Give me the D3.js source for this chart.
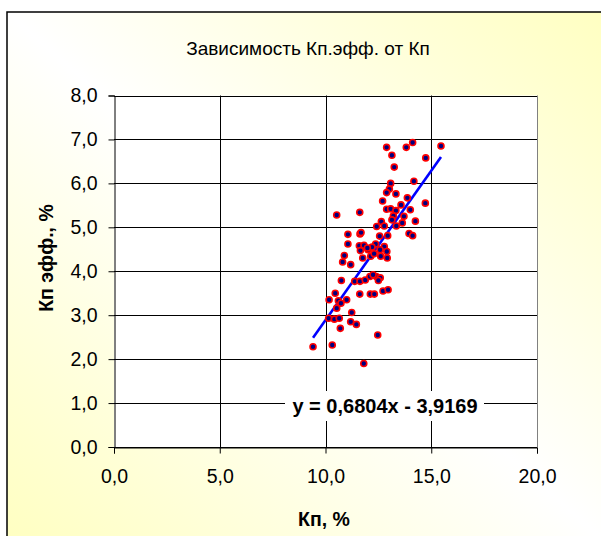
<!DOCTYPE html>
<html><head><meta charset="utf-8">
<script src="https://cdn.jsdelivr.net/npm/d3@7"></script>
<style>body{margin:0;background:#fff}svg{display:block}text{font-family:"Liberation Sans",Arial,sans-serif}</style>
</head><body>
<script>
const title = "Зависимость Кп.эфф. от Кп";
const xTitle = "Кп, %";
const yTitle = "Кп эфф., %";
const xTicks = [0, 5, 10, 15, 20];
const yTicks = [0, 1, 2, 3, 4, 5, 6, 7, 8];
const slope = 0.6804, intercept = -3.9169;
const equation = "y = 0,6804x - 3,9169";
const kp = [12.89,14.12,13.82,15.46,13.14,14.74,13.25,14.18,13.08,13.02,12.89,13.33,13.87,12.70,14.72,13.57,12.89,13.08,13.33,14.01,
  10.53,11.62,13.21,13.71,14.25,12.64,13.14,12.42,12.78,13.35,13.63,11.06,11.63,11.68,12.56,12.94,13.95,14.12,
  11.06,11.60,11.82,12.37,12.78,11.65,12.01,12.58,10.89,11.76,12.14,12.61,12.92,10.81,11.19,10.75,11.38,11.63,11.88,12.10,12.40,12.59,12.50,
  10.46,10.17,10.61,11.00,11.62,12.12,12.31,12.72,12.96,10.73,10.53,11.24,10.15,10.42,10.65,11.19,11.46,10.70,12.47,9.41,10.32,11.81,
  12.20,12.90,12.30,11.98,12.25];
const kpEff = [6.82,6.93,6.82,6.85,6.64,6.58,6.37,6.05,6.00,5.87,5.79,5.76,5.67,5.60,5.55,5.51,5.41,5.42,5.38,5.40,
  5.28,5.34,5.26,5.25,5.14,5.13,5.17,5.02,5.03,5.03,5.10,4.84,4.85,4.88,4.80,4.81,4.86,4.81,
  4.62,4.58,4.59,4.62,4.56,4.47,4.49,4.49,4.36,4.30,4.34,4.34,4.30,4.21,4.15,3.79,3.77,3.77,3.80,3.88,3.88,3.85,3.79,
  3.50,3.35,3.33,3.35,3.48,3.48,3.48,3.55,3.58,3.27,3.16,3.06,2.93,2.91,2.93,2.85,2.79,2.70,2.55,2.28,2.32,1.90,
  4.55,4.45,4.40,4.53,3.92];

const W = 601, H = 536;
const FONT = 19.5;
const svg = d3.select("body").append("svg").attr("width", W).attr("height", H);
const defs = svg.append("defs");
const g = defs.append("linearGradient").attr("id","bg").attr("x1","0").attr("y1","1").attr("x2","1").attr("y2","0");
g.append("stop").attr("offset","0").attr("stop-color","#ffffc0");
g.append("stop").attr("offset","0.5").attr("stop-color","#ffffff");
g.append("stop").attr("offset","1").attr("stop-color","#ffffc0");

svg.append("rect").attr("x",7).attr("y",12).attr("width",610).attr("height",540)
  .attr("fill","url(#bg)").attr("stroke","#000").attr("stroke-width",1.5);

const loc = d3.formatLocale({decimal: ",", thousands: " ", grouping: [3], currency: ["", ""]});
const fmt = loc.format(".1f");

const x = d3.scaleLinear().domain([0, 20]).range([114, 537]);
const y = d3.scaleLinear().domain([0, 8]).range([447, 95.5]);

svg.append("rect").attr("x", x(0)).attr("y", y(8)).attr("width", x(20)-x(0)).attr("height", y(0)-y(8)).attr("fill","#fff");

// gridlines
svg.append("g").selectAll("line").data(yTicks).join("line")
  .attr("x1", x(0)).attr("x2", x(20)).attr("y1", d=>Math.round(y(d))+0.5).attr("y2", d=>Math.round(y(d))+0.5)
  .attr("stroke","#000").attr("stroke-width",1);
svg.append("g").selectAll("line").data(xTicks.filter(d=>d>0&&d<20)).join("line")
  .attr("y1", y(0)).attr("y2", y(8)).attr("x1", d=>Math.round(x(d))+0.5).attr("x2", d=>Math.round(x(d))+0.5)
  .attr("stroke","#000").attr("stroke-width",1);
svg.append("line").attr("x1", Math.round(x(20))+0.5).attr("x2", Math.round(x(20))+0.5).attr("y1", y(0)).attr("y2", y(8))
  .attr("stroke","#808080").attr("stroke-width",1);

// axes
const xAxis = svg.append("g").attr("transform",`translate(0,${Math.round(y(0))+0.5})`)
  .call(d3.axisBottom(x).tickValues(xTicks).tickFormat(fmt).tickSize(6).tickPadding(16));
const yAxis = svg.append("g").attr("transform",`translate(${Math.round(x(0))+0.5},0)`)
  .call(d3.axisLeft(y).tickValues(yTicks).tickFormat(fmt).tickSize(6).tickPadding(11));
[xAxis, yAxis].forEach(a => {
  a.select(".domain").attr("stroke","#000");
  a.selectAll(".tick line").attr("stroke","#000");
  a.selectAll("text").attr("font-size", FONT).attr("fill","#000").style("font-family","'Liberation Sans',Arial,sans-serif");
});

// trendline
const xs = d3.extent(kp);
svg.append("line").attr("x1", x(xs[0])).attr("y1", y(slope*xs[0]+intercept))
  .attr("x2", x(xs[1])).attr("y2", y(slope*xs[1]+intercept))
  .attr("stroke","#0000ff").attr("stroke-width",2.6);

// points
svg.append("g").selectAll("circle").data(kp.map((v,i)=>[v,kpEff[i]])).join("circle")
  .attr("cx", d=>x(d[0])).attr("cy", d=>y(d[1])).attr("r", 3)
  .attr("fill","#000080").attr("stroke","#ff0000").attr("stroke-width",1.6);

// equation label
const eq = svg.append("g");
eq.append("rect").attr("x", 285).attr("y", 391).attr("width", 199).attr("height", 30).attr("fill","#fff");
eq.append("text").attr("x", 385).attr("y", 413).attr("text-anchor","middle")
  .attr("font-size", 20).attr("font-weight","bold").text(equation);

// titles
svg.append("text").attr("x", 308).attr("y", 55).attr("text-anchor","middle").attr("font-size", 19).text(title);
svg.append("text").attr("x", 324).attr("y", 526).attr("text-anchor","middle")
  .attr("font-size", FONT).attr("font-weight","bold").text(xTitle);
svg.append("text").attr("transform","translate(53,258) rotate(-90)").attr("text-anchor","middle")
  .attr("font-size", FONT).attr("font-weight","bold").text(yTitle);
</script>
</body></html>
